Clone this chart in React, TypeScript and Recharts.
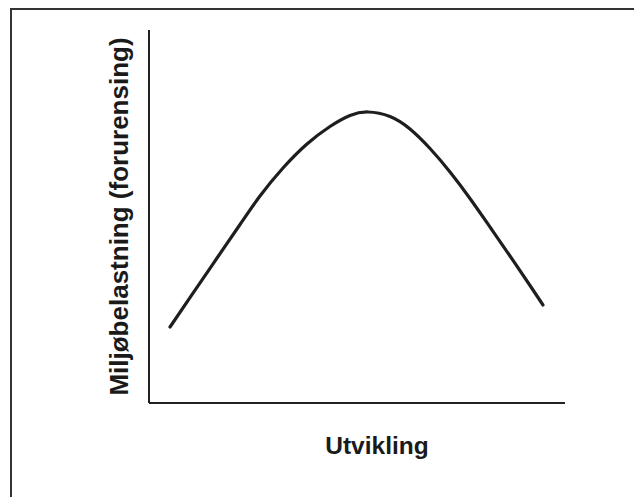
import React from "react";
import { LineChart, Line, XAxis, YAxis } from "recharts";

const development = [5.05, 10.58, 16.35, 21.88, 26.68, 32.21, 37.98, 43.51, 48.32, 52.64, 57.93, 62.74, 67.55, 72.36, 77.16, 81.97, 86.78, 91.59, 94.71];
const pollution = [20.38, 29.44, 38.87, 47.86, 55.5, 63.0, 69.44, 74.13, 77.08, 78.02, 76.81, 73.46, 68.23, 61.93, 54.83, 47.18, 39.41, 31.5, 26.27];
const xTitle = "Utvikling";
const yTitle = "Miljøbelastning (forurensing)";

const data = development.map((x, i) => ({ x, y: pollution[i] }));

const FONT = "'Liberation Sans', Arial, Helvetica, sans-serif";

const XLabel = (props: any) => {
  const vb = props.viewBox || {};
  return (
    <text
      x={vb.x + vb.width / 2 + 20}
      y={vb.y + 51}
      textAnchor="middle"
      fontFamily={FONT}
      fontWeight="bold"
      fontSize={24.5}
      fill="#1a1a1a"
    >
      {xTitle}
    </text>
  );
};

const YLabel = (props: any) => {
  const vb = props.viewBox || {};
  const cx = vb.x + vb.width - 21;
  const cy = vb.y + vb.height / 2;
  return (
    <text
      x={cx}
      y={cy}
      transform={`rotate(-90 ${cx} ${cy})`}
      textAnchor="middle"
      fontFamily={FONT}
      fontWeight="bold"
      fontSize={26}
      fill="#1a1a1a"
    >
      {yTitle}
    </text>
  );
};

export default function App() {
  return (
    <div style={{ position: "absolute", left: 0, top: 0, width: 634, height: 497, background: "#fff" }}>
      <div
        style={{
          position: "absolute",
          left: 10,
          top: 8,
          right: 0,
          bottom: 0,
          borderLeft: "2px solid #333",
          borderTop: "2px solid #333",
        }}
      />
      <div style={{ position: "absolute", left: 0, top: 0 }}>
        <LineChart
          width={634}
          height={497}
          data={data}
          margin={{ top: 30, right: 69, bottom: 84, left: 139 }}
        >
          <XAxis
            dataKey="x"
            type="number"
            domain={[0, 100]}
            height={10}
            tick={false}
            tickLine={false}
            axisLine={{ stroke: "#222", strokeWidth: 2 }}
            label={<XLabel />}
          />
          <YAxis
            type="number"
            domain={[0, 100]}
            width={10}
            tick={false}
            tickLine={false}
            axisLine={{ stroke: "#222", strokeWidth: 2 }}
            label={<YLabel />}
          />
          <Line
            type="natural"
            dataKey="y"
            stroke="#1e1e1e"
            strokeWidth={3.2}
            dot={false}
            strokeLinecap="round"
            isAnimationActive={false}
          />
        </LineChart>
      </div>
    </div>
  );
}
